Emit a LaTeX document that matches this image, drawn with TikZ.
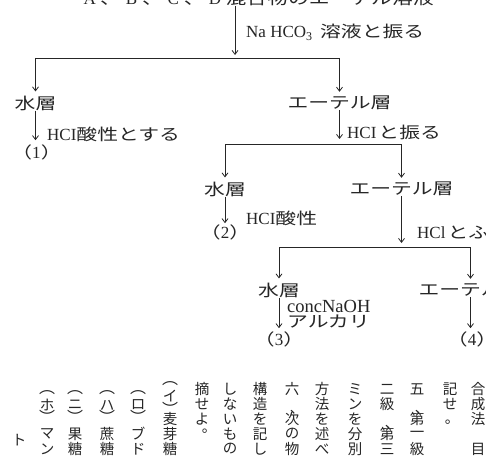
\documentclass[tikz,border=0pt]{standalone}
\usepackage{fontspec}
\usetikzlibrary{arrows.meta}
\newfontfamily\jp[FakeStretch=1.3]{Noto Sans CJK JP}
\newfontfamily\jpv{Noto Sans CJK JP}
\newfontfamily\latf{Liberation Serif}
\newcommand\fw[1]{\makebox[21pt]{\latf\fontsize{17}{18}\selectfont #1}}
\newcommand\lat[1]{{\latf\fontsize{17}{18}\selectfont #1}}
\newcommand\vcol[4]{\foreach \ch [count=\i from #3] in {#4}{\node[vch] (#1-\i) at (#2,{374+15*\i}) {\ch};}}
\begin{document}
\begin{tikzpicture}[x=1pt,y=-1pt,
  lbl/.style={font=\jp\fontsize{16}{18}\selectfont, inner sep=0pt, text=black!85},
  arr/.style={-{Straight Barb[length=4pt,width=6pt]}, line width=0.8pt, draw=black!85},
  ln/.style={line width=0.8pt, draw=black!85},
  vch/.style={font=\jpv\fontsize{14.5}{15}\selectfont, inner sep=0pt, text=black!85},
  vpar/.style={font=\jpv\fontsize{16}{16}\selectfont, inner sep=0pt, text=black!85},
]
\fill[white] (0,0) rectangle (486,457);
\useasboundingbox (0,0) rectangle (486,457);

% ---- flow chart ----
\node[lbl, anchor=base west] (src) at (79,5) {\fw{A}、\fw{B}、\fw{C}、\fw{D}混合物のエーテル溶液};
\coordinate (j0) at (235,55);
\draw[arr] (src.south -| j0) -- (j0);
\node[lbl, anchor=west] (t1) at (246,32) {\lat{Na HCO\raisebox{-3pt}{\fontsize{12}{12}\selectfont 3}}\hspace{8pt}溶液と振る};

\node[lbl] (w1) at (35.5,103) {水層};
\node[lbl] (e1) at (339.5,103) {エーテル層};
\coordinate (s1l) at (w1 |- 0,58);
\coordinate (s1r) at (e1 |- 0,58);
\draw[ln] (s1l) -- (s1r);
\draw[arr, shorten >=4pt] (s1l) -- (w1);
\draw[arr, shorten >=4pt] (s1r) -- (e1);

\node[lbl] (r1) at (36.5,152) {（\lat{1}）};
\draw[arr, shorten >=4pt] (w1) -- (w1 |- r1.north);
\node[lbl, anchor=west] (t2) at (47,134) {\lat{HCI}酸性とする};

\coordinate (j1) at (e1 |- 0,139);
\draw[arr] (e1) -- (j1);
\node[lbl, anchor=west] (t3) at (347,132) {\lat{HCI}\hspace{2pt}と振る};

\node[lbl] (w2) at (225,189) {水層};
\node[lbl] (e2) at (401.5,189) {エーテル層};
\coordinate (s2l) at (w2 |- 0,144);
\coordinate (s2r) at (e2 |- 0,144);
\draw[ln] (s2l) -- (s2r);
\draw[arr, shorten >=4pt] (s2l) -- (w2);
\draw[arr, shorten >=4pt] (s2r) -- (e2);

\node[lbl] (r2) at (225,232) {（\lat{2}）};
\draw[arr, shorten >=1pt] (w2) -- (w2 |- r2.north);
\node[lbl, anchor=west] (t4) at (246,218) {\lat{HCI}酸性};

\coordinate (j2) at (e2 |- 0,243);
\draw[arr] (e2) -- (j2);
\node[lbl, anchor=west] (t5) at (417,233) {\lat{HCl}\hspace{2pt}とふ};

\node[lbl] (w3) at (279,290) {水層};
\node[lbl] (e3) at (470.5,290) {エーテル層};
\coordinate (s3l) at (w3 |- 0,247);
\coordinate (s3r) at (e3 |- 0,247);
\draw[ln] (s3l) -- (s3r);
\draw[arr, shorten >=4pt] (s3l) -- (w3);
\draw[arr, shorten >=4pt] (s3r) -- (e3);

\node[lbl, anchor=west, font=\latf\fontsize{18.5}{19}\selectfont] (t6) at (287,306) {concNaOH};
\node[lbl, anchor=west] (t7) at (287,322) {アルカリ};
\node[lbl] (r3) at (279,339) {（\lat{3}）};
\node[lbl] (r4) at (472,339) {（\lat{4}）};
\draw[arr, shorten >=3pt] (w3) -- (w3 |- r3.north);
\draw[arr, shorten >=3pt] (e3) -- (e3 |- r4.north);

% ---- vertical text below ----
\vcol{ca}{478}{1}{合,成,法}
\node[vch] (ca-5) at (478,449) {目};
\vcol{cb}{450}{1}{記,せ}
\node[vch] (cb-p) at (452,422) {。};
\vcol{cc}{417}{1}{五}
\node[vch] (cc-p) at (422,412) {、};
\vcol{cc}{417}{3}{第,一,級}
\vcol{cd}{387}{1}{二,級}
\node[vch] (cd-p) at (392,427) {、};
\vcol{cd}{387}{4}{第,三}
\vcol{ce}{355}{1}{ミ,ン,を,分,別}
\vcol{cf}{322}{1}{方,法,を,述,べ}
\vcol{cg}{292}{1}{六}
\node[vch] (cg-p) at (297,412) {、};
\vcol{cg}{292}{3}{次,の,物}
\vcol{ch}{260}{1}{構,造,を,記,し}
\vcol{ci}{230}{1}{し,な,い,も,の}
\vcol{cj}{202}{1}{摘,せ,よ}
\node[vch] (cj-p) at (209,431) {。};

\node[vpar] (ck-o) at (170,383.5) {︵};
\node[vch] (ck-k) at (170,396) {イ};
\node[vpar] (ck-c) at (170,409) {︶};
\vcol{ck}{170}{3}{麦,芽,糖}

\node[vpar] (cl-o) at (138,393) {︵};
\node[vch] (cl-k) at (138,405) {ロ};
\node[vpar] (cl-c) at (138,417) {︶};
\vcol{cl}{138}{4}{ブ,ド}

\node[vpar] (cm-o) at (107,393) {︵};
\node[vch] (cm-k) at (107,405) {ハ};
\node[vpar] (cm-c) at (107,417) {︶};
\vcol{cm}{107}{4}{蔗,糖}

\node[vpar] (cn-o) at (75,393) {︵};
\node[vch] (cn-k) at (75,405) {ニ};
\node[vpar] (cn-c) at (75,417) {︶};
\vcol{cn}{75}{4}{果,糖}

\node[vpar] (co-o) at (47,393) {︵};
\node[vch] (co-k) at (47,405) {ホ};
\node[vpar] (co-c) at (47,417) {︶};
\vcol{co}{47}{4}{マ,ン}

\node[vch] (cq) at (19,440) {ト};
\end{tikzpicture}
\end{document}
